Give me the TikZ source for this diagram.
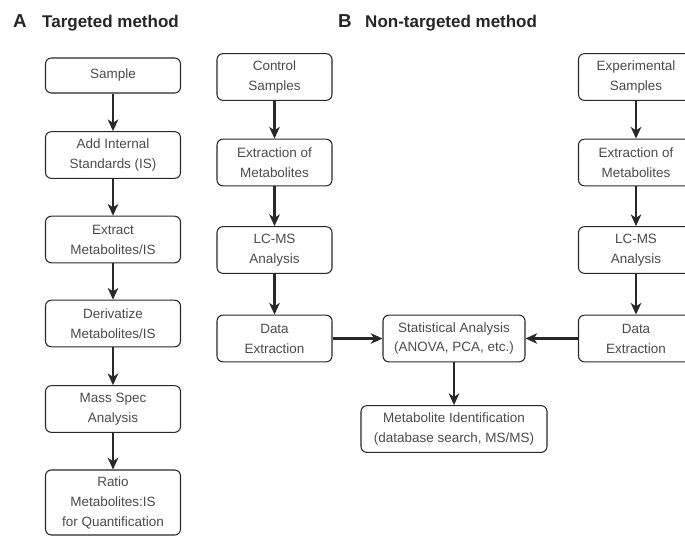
\documentclass[tikz,border=0pt]{standalone}
\usepackage{fontspec}
\setmainfont{Liberation Sans}
\usetikzlibrary{arrows.meta, positioning}
\definecolor{contorno}{RGB}{40, 40, 40}
\definecolor{textoetapa}{RGB}{75, 75, 75}

\begin{document}
\begin{tikzpicture}[
    x=0.03cm, y=-0.03cm,
    etapa/.style={
        draw=contorno,
        line width=0.9pt,
        rounded corners=5pt,
        align=center,
        text=textoetapa,
        inner sep=2pt,
        font=\fontsize{11.5}{17}\selectfont,
        minimum width=3.45cm,
        minimum height=1.4cm
    },
    etapaA/.style={
        etapa,
        minimum width=4.05cm
    },
    titulo/.style={
        anchor=base west,
        inner sep=0pt,
        font=\fontsize{14.5}{16}\selectfont\bfseries,
        text=black!85
    },
    seta/.style={
        -{Stealth[length=10pt, width=9pt, inset=3pt]},
        line width=1.8pt,
        contorno
    },
    setagrossa/.style={
        seta,
        line width=3pt
    }
]

\clip (0,0) rectangle (685,536);

% titulos
\node[titulo, font=\fontsize{16}{18}\selectfont\bfseries] (letraA) at (13,28) {A};
\node[titulo] (tituloA) at (42,28) {Targeted method};
\node[titulo, font=\fontsize{16}{18}\selectfont\bfseries] (letraB) at (338,28) {B};
\node[titulo] (tituloB) at (365,28) {Non-targeted method};

% A - metodo direcionado
\node[etapaA, minimum height=1.05cm] (amostra) at (113,75.5) {Sample};
\node[etapaA] (padrao) at (113,155) {Add Internal\\Standards (IS)};
\node[etapaA] (extrair) at (113,239.5) {Extract\\Metabolites/IS};
\node[etapaA] (derivar) at (113,323.5) {Derivatize\\Metabolites/IS};
\node[etapaA] (massa) at (113,409) {Mass Spec\\Analysis};
\node[etapaA, minimum height=1.95cm] (razao) at (113,502.5)
{Ratio\\Metabolites:IS\\for Quantification};

\draw[seta] (amostra) -- (padrao);
\draw[seta] (padrao) -- (extrair);
\draw[seta] (extrair) -- (derivar);
\draw[seta] (derivar) -- (massa);
\draw[seta] (massa) -- (razao);

% B - controle
\node[etapa] (controle) at (274.5,77) {Control\\Samples};
\node[etapa] (extC) at (274.5,162.5) {Extraction of\\Metabolites};
\node[etapa] (lcmsC) at (274.5,250) {LC-MS\\Analysis};
\node[etapa] (dadosC) at (274.5,338.5) {Data\\Extraction};

% B - experimental
\node[etapa] (experim) at (636,77) {Experimental\\Samples};
\node[etapa] (extE) at (636,162.5) {Extraction of\\Metabolites};
\node[etapa] (lcmsE) at (636,250) {LC-MS\\Analysis};
\node[etapa] (dadosE) at (636,338.5) {Data\\Extraction};

% B - analise
\node[etapa, minimum width=4.26cm] (estat) at (454,338.5)
{Statistical Analysis\\(ANOVA, PCA, etc.)};
\node[etapa, minimum width=5.58cm] (ident) at (454,429)
{Metabolite Identification\\(database search, MS/MS)};

\draw[seta] (controle) -- (extC);
\draw[seta] (extC) -- (lcmsC);
\draw[seta] (lcmsC) -- (dadosC);
\draw[seta] (experim) -- (extE);
\draw[seta] (extE) -- (lcmsE);
\draw[seta] (lcmsE) -- (dadosE);
\draw[seta, line width=2.3pt] (dadosC) -- (estat);
\draw[setagrossa] (dadosE) -- (estat);
\draw[seta] (estat) -- (ident);

\end{tikzpicture}
\end{document}
